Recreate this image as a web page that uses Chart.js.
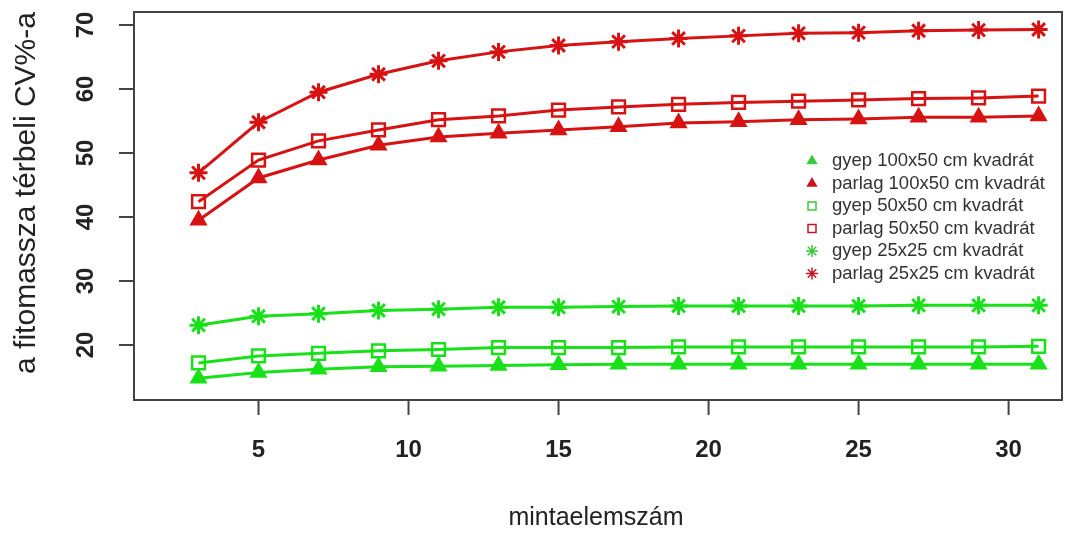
<!DOCTYPE html>
<html>
<head>
<meta charset="utf-8">
<script src="https://cdn.jsdelivr.net/npm/chart.js@4/dist/chart.umd.min.js"></script>
<style>
html,body{margin:0;padding:0;background:#fff;}
#wrap{width:1074px;height:533px;position:relative;}
</style>
</head>
<body>
<div id="wrap"><canvas id="c" width="1074" height="533"></canvas></div>
<script>
// ---- data ----
const xValues = [3, 5, 7, 9, 11, 13, 15, 17, 19, 21, 23, 25, 27, 29, 31];
const gyep100 = [14.8, 15.7, 16.2, 16.6, 16.7, 16.8, 16.9, 17.0, 17.0, 17.0, 17.0, 17.0, 17.0, 17.0, 17.0];
const parlag100 = [39.5, 46.1, 48.9, 51.2, 52.5, 53.1, 53.6, 54.1, 54.7, 54.9, 55.2, 55.3, 55.6, 55.6, 55.8];
const gyep50 = [17.2, 18.3, 18.7, 19.1, 19.3, 19.6, 19.6, 19.6, 19.7, 19.7, 19.7, 19.7, 19.7, 19.7, 19.8];
const parlag50 = [42.4, 48.9, 51.9, 53.6, 55.2, 55.8, 56.7, 57.2, 57.6, 57.9, 58.1, 58.3, 58.5, 58.6, 58.9];
const gyep25 = [23.1, 24.5, 24.9, 25.4, 25.6, 25.9, 25.9, 26.0, 26.1, 26.1, 26.1, 26.1, 26.2, 26.2, 26.2];
const parlag25 = [46.9, 54.8, 59.5, 62.3, 64.4, 65.8, 66.8, 67.4, 67.9, 68.3, 68.7, 68.8, 69.1, 69.2, 69.3];
const seriesLabels = ["gyep 100x50 cm kvadrát", "parlag 100x50 cm kvadrát", "gyep 50x50 cm kvadrát", "parlag 50x50 cm kvadrát", "gyep 25x25 cm kvadrát", "parlag 25x25 cm kvadrát"];
const xTicks = [5, 10, 15, 20, 25, 30];
const yTicks = [20, 30, 40, 50, 60, 70];
const xTitle = "mintaelemszám";
const yTitle = "a fitomassza térbeli CV%-a";

const GREEN = 'rgb(25,225,25)';
const RED = 'rgb(215,18,18)';
const LEG_GREEN = 'rgb(60,200,60)';
const LEG_RED = 'rgb(200,20,30)';

function pts(arr){ return xValues.map((x,i)=>({x:x,y:arr[i]})); }

const seriesData = [gyep100, parlag100, gyep50, parlag50, gyep25, parlag25];
const styles = [
  {c:GREEN, lc:LEG_GREEN, ps:'triangle', r:8, fill:true},
  {c:RED, lc:LEG_RED, ps:'triangle', r:8, fill:true},
  {c:GREEN, lc:LEG_GREEN, ps:'rect', r:9, fill:false},
  {c:RED, lc:LEG_RED, ps:'rect', r:9, fill:false},
  {c:GREEN, lc:LEG_GREEN, ps:'star', r:9, fill:false},
  {c:RED, lc:LEG_RED, ps:'star', r:9, fill:false}
];

const datasets = seriesData.map((d,i)=>({
  label: seriesLabels[i],
  data: pts(d),
  borderColor: styles[i].c,
  backgroundColor: styles[i].fill ? styles[i].c : 'rgba(0,0,0,0)',
  borderWidth: 3,
  pointStyle: styles[i].ps,
  pointRadius: styles[i].r,
  pointBorderWidth: styles[i].ps==='star' ? 3 : 2.5,
  pointBorderColor: styles[i].c,
  pointBackgroundColor: styles[i].fill ? styles[i].c : 'rgba(0,0,0,0)',
  tension: 0,
  fill: false
}));

const FONT = '"Liberation Sans", Arial, sans-serif';

const framePlugin = {
  id: 'rframe',
  afterDraw(chart){
    const ctx = chart.ctx, a = chart.chartArea;
    const xs = chart.scales.x, ys = chart.scales.y;
    ctx.save();
    // box
    ctx.strokeStyle = '#444';
    ctx.lineWidth = 2;
    ctx.strokeRect(a.left, a.top, a.right - a.left, a.bottom - a.top);
    // x ticks
    ctx.fillStyle = '#222';
    ctx.font = 'bold 24px ' + FONT;
    ctx.textAlign = 'center';
    ctx.textBaseline = 'middle';
    xTicks.forEach(v=>{
      const px = xs.getPixelForValue(v);
      ctx.beginPath(); ctx.moveTo(px, a.bottom); ctx.lineTo(px, a.bottom + 15); ctx.stroke();
      ctx.fillText(String(v), px, 450);
    });
    // y ticks
    yTicks.forEach(v=>{
      const py = ys.getPixelForValue(v);
      ctx.beginPath(); ctx.moveTo(a.left, py); ctx.lineTo(a.left - 15, py); ctx.stroke();
      ctx.save();
      ctx.translate(86, py);
      ctx.rotate(-Math.PI/2);
      ctx.fillText(String(v), 0, 0);
      ctx.restore();
    });
    // titles
    ctx.font = '25px ' + FONT;
    ctx.fillText(xTitle, (a.left + a.right)/2 - 2, 518);
    ctx.save();
    ctx.translate(35, 193);
    ctx.rotate(-Math.PI/2);
    ctx.textBaseline = 'alphabetic';
    ctx.font = '30px ' + FONT;
    ctx.fillText(yTitle, 0, 0);
    ctx.restore();
    // legend
    ctx.font = '18.5px ' + FONT;
    ctx.textAlign = 'left';
    const lx = 812, ly0 = 161, dy = 22.5;
    seriesLabels.forEach((lab,i)=>{
      const y = ly0 + i*dy;
      const s = styles[i];
      ctx.save();
      ctx.strokeStyle = s.lc; ctx.fillStyle = s.lc; ctx.lineWidth = 1.5;
      if (s.ps === 'triangle') {
        Chart.helpers.drawPoint(ctx, {pointStyle:'triangle', radius:5, rotation:0, borderWidth:1}, lx, y);
        ctx.fill();
      } else if (s.ps === 'rect') {
        ctx.strokeRect(lx-4, y-4, 8, 8);
      } else {
        Chart.helpers.drawPoint(ctx, {pointStyle:'star', radius:6, rotation:0, borderWidth:1.5}, lx, y);
      }
      ctx.restore();
      ctx.fillStyle = '#333';
      ctx.fillText(lab, 832, y);
    });
    ctx.restore();
  }
};

new Chart(document.getElementById('c'), {
  type: 'line',
  data: { datasets: datasets },
  options: {
    responsive: false,
    animation: false,
    devicePixelRatio: 1,
    layout: { padding: { left: 134, right: 12, top: 12, bottom: 133 } },
    plugins: { legend: { display: false }, tooltip: { enabled: false } },
    scales: {
      x: { type: 'linear', min: 0.85, max: 31.78, display: false },
      y: { type: 'linear', min: 11.41, max: 72.03, display: false }
    }
  },
  plugins: [framePlugin]
});
</script>
</body>
</html>
